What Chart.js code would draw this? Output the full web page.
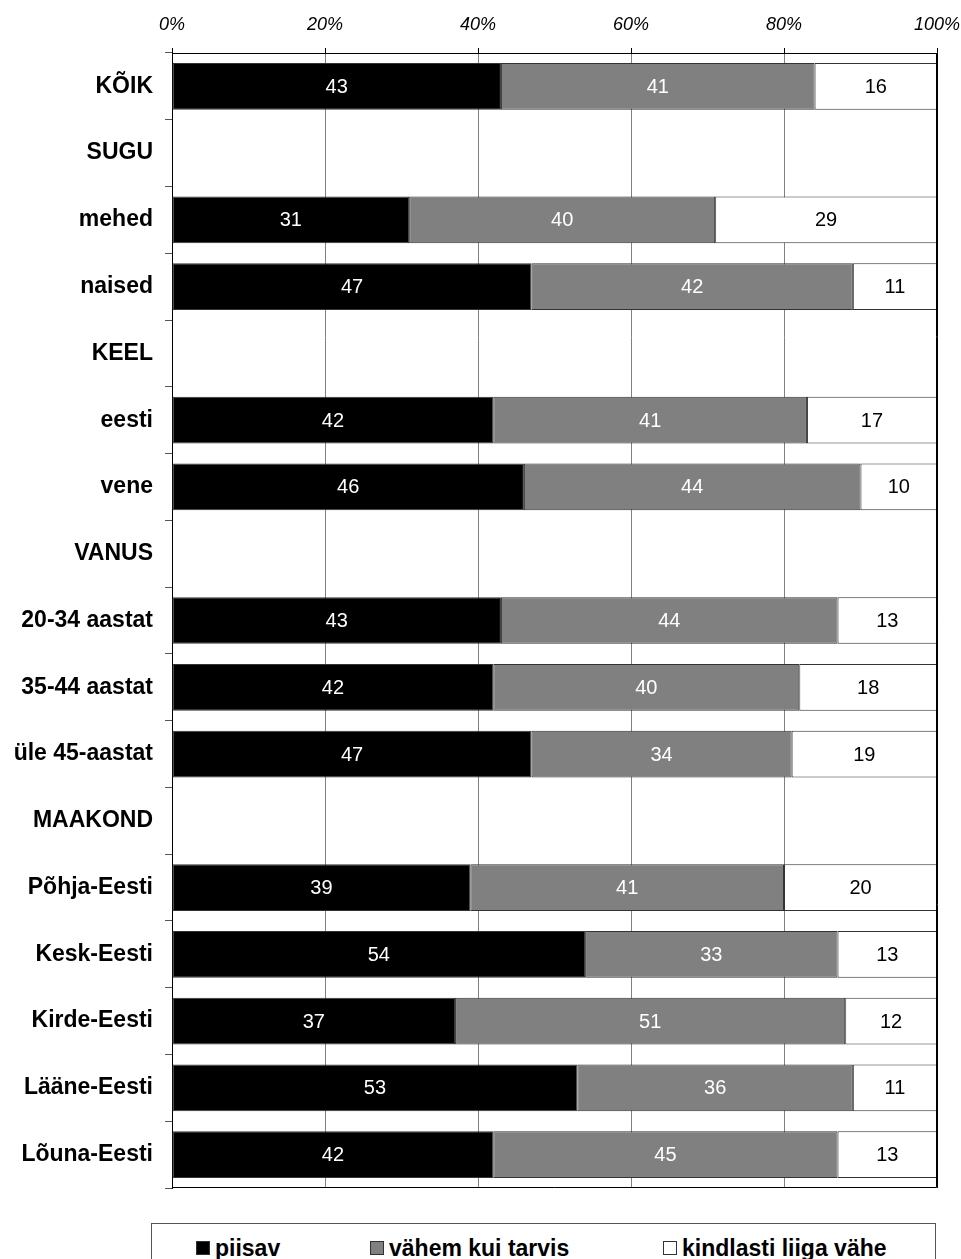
<!DOCTYPE html>
<html>
<head>
<meta charset="utf-8">
<script src="https://cdn.jsdelivr.net/npm/chart.js@4.4.1/dist/chart.umd.min.js"></script>
<style>
  body { margin: 0; background: #fff; font-family: "Liberation Sans", Arial, sans-serif; }
  #wrap { position: relative; width: 961px; height: 1259px; overflow: hidden; }
  #box { position: absolute; left: 0; top: 0; width: 961px; height: 1200px; }
  #legend { position: absolute; left: 151px; top: 1223px; width: 783px; height: 60px;
            border: 1px solid #555; }
  .item { position: absolute; top: 13px; font-weight: bold; font-size: 23px; line-height: 22px;
          white-space: nowrap; color: #000; }
  .item i { display: inline-block; width: 14px; height: 14px; border: 1px solid #333;
            margin-right: 5px; vertical-align: 1px; box-sizing: border-box; }
</style>
</head>
<body>
<div id="wrap">
  <div id="box"><canvas id="chart"></canvas></div>
  <div id="legend"></div>
</div>
<script>
var categories = ["KÕIK", "SUGU", "mehed", "naised", "KEEL", "eesti", "vene", "VANUS",
    "20-34 aastat", "35-44 aastat", "üle 45-aastat", "MAAKOND",
    "Põhja-Eesti", "Kesk-Eesti", "Kirde-Eesti", "Lääne-Eesti", "Lõuna-Eesti"];

var piisav = [43, null, 31, 47, null, 42, 46, null, 43, 42, 47, null, 39, 54, 37, 53, 42];
var vahem = [41, null, 40, 42, null, 41, 44, null, 44, 40, 34, null, 41, 33, 51, 36, 45];
var liigaVahe = [16, null, 29, 11, null, 17, 10, null, 13, 18, 19, null, 20, 13, 12, 11, 13];

var seriesNames = ["piisav", "vähem kui tarvis", "kindlasti liiga vähe"];
var seriesColors = ["#000000", "#808080", "#ffffff"];
var labelColors = ["#ffffff", "#ffffff", "#000000"];
var xTicks = [0, 20, 40, 60, 80, 100];

var font = '"Liberation Sans", Arial, sans-serif';

// numbers in the middle of each segment
var valueLabels = {
    id: 'valueLabels',
    afterDatasetsDraw: function(chart) {
        var ctx = chart.ctx;
        ctx.save();
        ctx.font = '20px ' + font;
        ctx.textAlign = 'center';
        ctx.textBaseline = 'middle';
        chart.data.datasets.forEach(function(ds, i) {
            var meta = chart.getDatasetMeta(i);
            meta.data.forEach(function(bar, j) {
                var v = ds.data[j];
                if (v == null) return;
                ctx.fillStyle = labelColors[i];
                ctx.fillText(v, (bar.x + bar.base) / 2, bar.y + 1);
            });
        });
        ctx.restore();
    }
};

// right and bottom edge of the plot area
var frame = {
    id: 'frame',
    afterDatasetsDraw: function(chart) {
        var a = chart.chartArea;
        var ctx = chart.ctx;
        ctx.save();
        ctx.strokeStyle = '#000';
        ctx.lineWidth = 1;
        ctx.beginPath();
        ctx.moveTo(Math.round(a.right) - 0.5, a.top);
        ctx.lineTo(Math.round(a.right) - 0.5, Math.round(a.bottom) - 0.5);
        ctx.lineTo(a.left, Math.round(a.bottom) - 0.5);
        ctx.stroke();
        ctx.restore();
    }
};

var datasets = [piisav, vahem, liigaVahe].map(function(d, i) {
    return {
        label: seriesNames[i],
        data: d,
        backgroundColor: seriesColors[i],
        borderColor: '#333333',
        borderWidth: 1,
        borderSkipped: false,
        barPercentage: 0.7,
        categoryPercentage: 1.0
    };
});

new Chart(document.getElementById('chart'), {
    type: 'bar',
    data: { labels: categories, datasets: datasets },
    options: {
        indexAxis: 'y',
        responsive: true,
        maintainAspectRatio: false,
        animation: false,
        layout: { padding: { left: 0, right: 24, top: 0, bottom: 12 } },
        plugins: {
            legend: { display: false },
            tooltip: { enabled: false }
        },
        scales: {
            x: {
                position: 'top',
                stacked: true,
                min: 0,
                max: 100,
                afterFit: function(scale) {
                    scale.height = 53;
                    scale.paddingLeft = 0;
                    scale.paddingRight = 0;
                },
                afterBuildTicks: function(scale) {
                    scale.ticks = xTicks.map(function(v) { return { value: v }; });
                },
                ticks: {
                    callback: function(v) { return v + '%'; },
                    color: '#000',
                    padding: 12,
                    maxRotation: 0,
                    font: { family: font, size: 18, style: 'italic' }
                },
                grid: {
                    color: function(c) {
                        return (c.tick && (c.tick.value === 0 || c.tick.value === 100)) ? '#000' : '#808080';
                    },
                    tickColor: '#000',
                    tickLength: 5,
                    lineWidth: 1
                },
                border: { color: '#000', width: 1 }
            },
            y: {
                stacked: true,
                afterFit: function(scale) {
                    scale.width = 172;
                    scale.paddingTop = 0;
                    scale.paddingBottom = 0;
                },
                ticks: {
                    color: '#000',
                    padding: 12,
                    autoSkip: false,
                    font: { family: font, size: 23, weight: 'bold' }
                },
                grid: {
                    offset: true,
                    drawOnChartArea: false,
                    tickColor: '#555',
                    tickLength: 7
                },
                border: { color: '#000', width: 1 }
            }
        }
    },
    plugins: [valueLabels, frame]
});

// legend in a framed box under the plot
var legendPos = [44, 218, 511];
var legend = document.getElementById('legend');
seriesNames.forEach(function(name, i) {
    var el = document.createElement('div');
    el.className = 'item';
    el.style.left = legendPos[i] + 'px';
    el.innerHTML = '<i style="background:' + seriesColors[i] + '"></i>' + name;
    legend.appendChild(el);
});
</script>
</body>
</html>
